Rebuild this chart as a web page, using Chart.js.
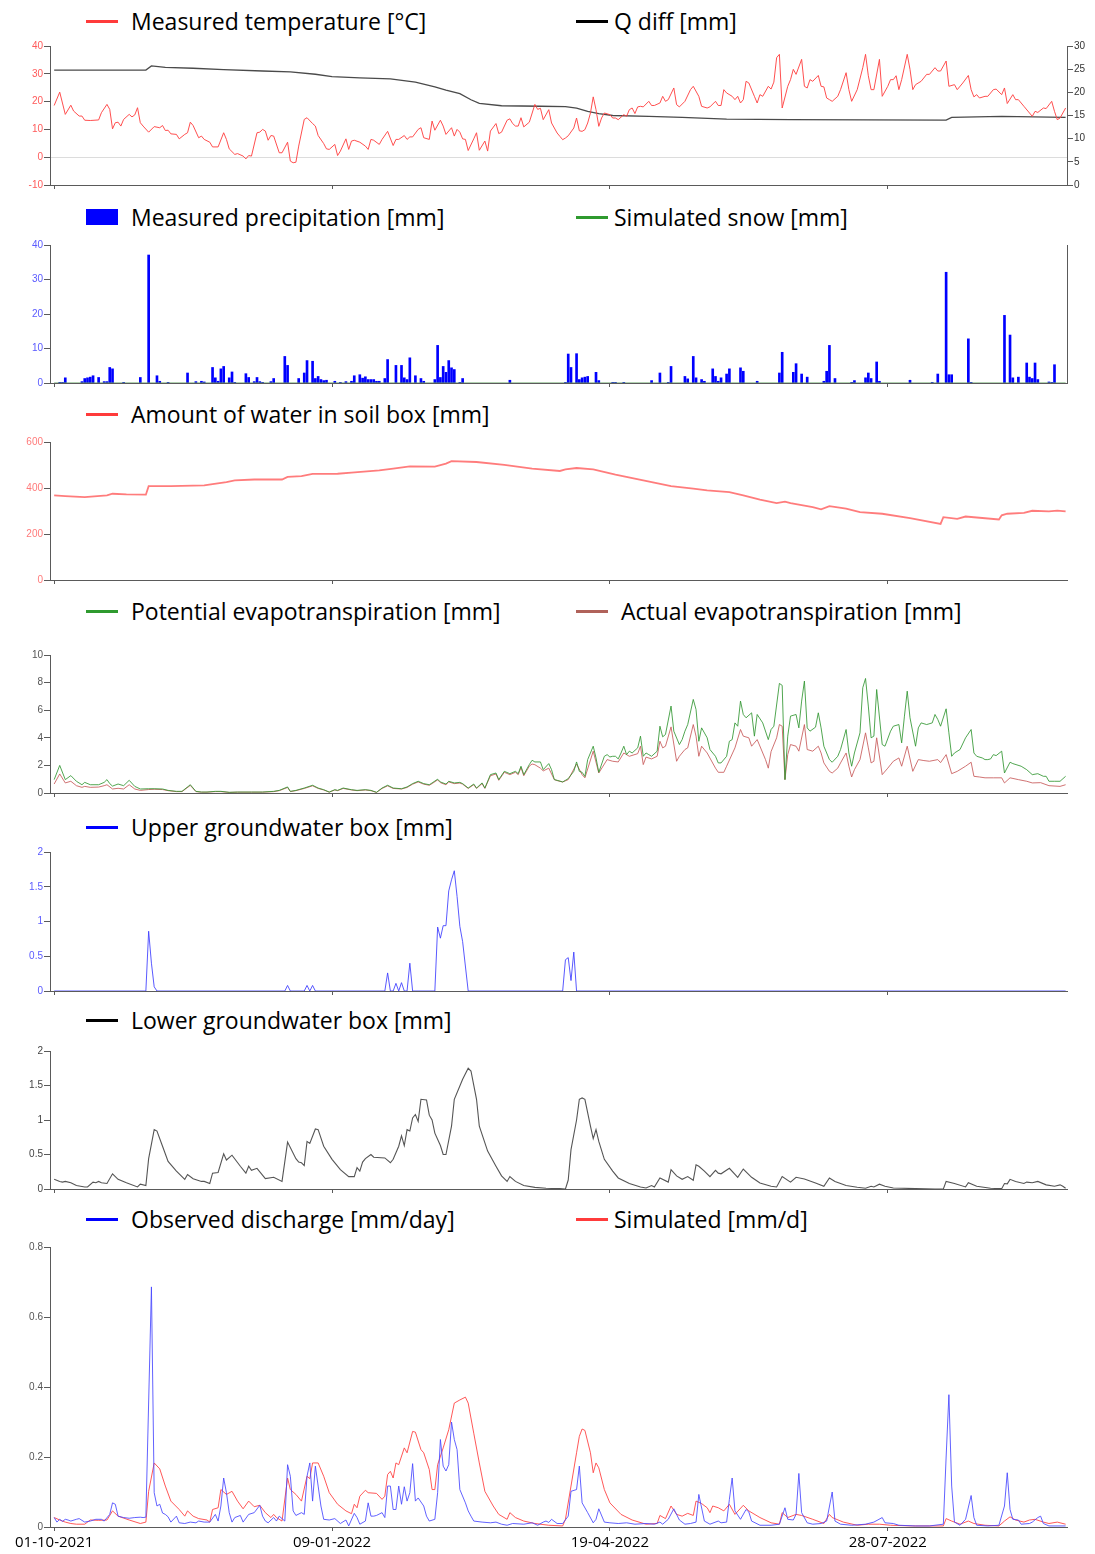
<!DOCTYPE html>
<html>
<head>
<meta charset="utf-8">
<title>HBV water balance 2021-2022</title>
<script src="https://cdn.jsdelivr.net/npm/chart.js@4.4.0/dist/chart.umd.min.js"></script>
<style>
  body { margin: 0; background: #fff; }
  #page { position: relative; width: 1095px; height: 1554px; overflow: hidden; }
  .panel { position: absolute; left: 0; }
  .key-line { position: absolute; height: 3px; }
  .key-box { position: absolute; }
  .key-text { position: absolute; font-family: 'Open Sans', sans-serif; font-size: 23px; line-height: 30px; color: #000; white-space: nowrap; }
</style>
</head>
<body>
<div id="page"></div>
<script>
'use strict';

// x axis: day number counted from 01-10-2021
const tickDays = [0, 100, 200, 300];
const tickLabels = ['01-10-2021', '09-01-2022', '19-04-2022', '28-07-2022'];

// [day, value] pairs
const temperature = [
  [0, 18.6], [2, 23.4], [4, 15.4], [6, 18.7], [7, 16.6], [9, 14.8], [10, 14.8], [11, 13.3], [13, 13.2], [16, 13.4],
  [17, 16.0], [19, 19.0], [20, 17.2], [21, 10.2], [22, 12.4], [23, 12.6], [24, 11.2], [25, 13.6], [27, 15.4], [28, 14.5],
  [29, 15.2], [30, 17.8], [31, 12.4], [32, 11.2], [34, 9.0], [36, 11.0], [38, 10.6], [39, 11.4], [40, 9.6], [41, 9.7],
  [42, 8.4], [44, 8.2], [45, 6.6], [47, 8.2], [48, 8.8], [49, 12.6], [50, 11.4], [52, 7.0], [53, 7.6], [54, 6.4],
  [56, 5.4], [57, 3.7], [59, 3.7], [61, 8.8], [62, 6.4], [63, 3.0], [65, 1.0], [66, 1.3], [68, 0.4], [69, -0.6],
  [70, 0.6], [71, 0.4], [73, 8.8], [74, 9.0], [75, 10.0], [76, 9.4], [77, 6.1], [78, 7.8], [79, 7.6], [81, 1.6],
  [82, 1.6], [84, 5.4], [85, -1.4], [86, -2.0], [87, -1.8], [88, 4.0], [90, 13.6], [91, 14.2], [93, 12.1], [94, 11.2],
  [95, 7.8], [97, 4.9], [98, 3.0], [99, 2.8], [101, 4.6], [102, 0.6], [103, 2.2], [105, 6.6], [106, 2.8], [107, 5.8],
  [108, 6.1], [110, 5.4], [112, 4.0], [113, 2.8], [114, 6.4], [115, 6.1], [117, 4.6], [118, 6.4], [120, 9.3], [122, 4.2],
  [123, 6.4], [124, 6.4], [126, 7.8], [127, 6.4], [128, 7.3], [129, 7.3], [131, 10.0], [132, 10.6], [133, 7.0], [135, 6.4],
  [136, 13.0], [137, 9.7], [139, 13.3], [140, 11.2], [141, 8.2], [143, 10.6], [144, 7.6], [145, 10.0], [146, 9.0], [147, 6.6],
  [148, 6.4], [149, 2.4], [151, 6.6], [152, 8.8], [153, 2.5], [155, 5.8], [156, 2.2], [157, 9.4], [159, 12.1], [160, 8.5],
  [161, 9.0], [163, 13.3], [164, 13.8], [165, 12.1], [166, 11.2], [167, 11.2], [168, 14.2], [169, 10.9], [171, 12.6], [173, 19.0],
  [174, 17.2], [175, 17.6], [176, 13.5], [178, 17.1], [179, 12.3], [181, 8.7], [182, 7.5], [183, 6.3], [184, 6.9], [185, 7.7],
  [187, 10.5], [188, 14.1], [189, 9.5], [190, 9.3], [191, 9.9], [192, 12.3], [193, 15.9], [194, 21.7], [195, 17.1], [196, 11.1],
  [197, 14.1], [198, 15.9], [200, 15.3], [201, 14.1], [202, 14.1], [203, 13.5], [205, 15.3], [206, 14.7], [207, 17.1], [208, 17.7],
  [209, 15.7], [210, 18.1], [211, 18.3], [212, 18.1], [214, 20.1], [215, 18.6], [216, 18.6], [218, 19.5], [219, 21.9], [220, 20.1],
  [221, 20.7], [223, 24.9], [224, 18.9], [225, 18.1], [227, 20.1], [229, 24.3], [230, 25.5], [232, 21.9], [233, 18.3], [235, 17.7],
  [236, 18.1], [238, 20.1], [239, 18.6], [240, 18.6], [241, 24.3], [242, 23.1], [244, 21.9], [245, 20.7], [246, 21.9], [247, 19.5],
  [248, 20.7], [249, 27.3], [250, 26.7], [252, 21.9], [253, 19.5], [254, 22.5], [255, 21.9], [257, 25.5], [258, 24.5], [259, 27.0],
  [260, 35.8], [261, 37.0], [262, 17.7], [264, 25.5], [265, 27.9], [266, 31.6], [267, 29.8], [269, 35.2], [270, 25.5], [271, 24.9],
  [272, 27.9], [273, 27.3], [275, 29.4], [276, 25.5], [277, 25.3], [278, 21.3], [279, 20.7], [280, 20.1], [282, 21.9], [283, 24.3],
  [285, 30.4], [286, 24.3], [287, 20.1], [289, 24.3], [291, 32.2], [292, 37.0], [293, 29.3], [294, 24.3], [295, 24.3], [297, 35.2],
  [298, 21.9], [300, 25.5], [301, 27.9], [302, 27.9], [303, 29.3], [304, 24.3], [305, 27.9], [307, 37.0], [308, 31.6], [309, 24.3],
  [310, 26.1], [312, 27.3], [314, 29.8], [315, 29.8], [317, 32.2], [318, 31.0], [319, 31.0], [321, 34.6], [322, 25.5], [324, 26.1],
  [325, 24.3], [327, 26.7], [329, 29.4], [330, 24.3], [331, 21.7], [332, 22.5], [333, 21.3], [335, 21.9], [336, 21.9], [338, 24.3],
  [339, 24.5], [341, 22.5], [342, 24.9], [343, 19.3], [345, 22.5], [346, 20.7], [347, 20.7], [349, 18.3], [352, 14.7], [353, 16.5],
  [354, 16.1], [356, 17.7], [357, 17.5], [359, 20.1], [360, 16.5], [361, 13.5], [362, 14.1], [364, 17.7]
];

const qDiff = [
  [0, 24.8], [33, 24.8], [35, 25.7], [40, 25.4], [50, 25.2], [61, 24.9], [75, 24.6], [85, 24.4], [94, 23.9], [100, 23.4],
  [110, 23.1], [121, 22.9], [130, 22.2], [137, 21.2], [141, 20.5], [146, 19.7], [150, 18.4], [153, 17.6], [161, 17.1], [175, 17.0],
  [184, 16.9], [188, 16.6], [192, 15.9], [196, 15.4], [201, 15.0], [214, 14.8], [226, 14.6], [242, 14.2], [265, 14.1], [321, 14.0],
  [323, 14.6], [341, 14.8], [364, 14.6]
];

const precipitation = [
  [2, 0.2], [3, 0.2], [4, 1.5], [10, 0.4], [11, 1.3], [12, 1.5], [13, 1.7], [14, 2.1], [16, 1.6], [18, 0.4],
  [19, 0.4], [20, 4.5], [21, 4.1], [25, 0.2], [31, 1.6], [34, 37.1], [37, 2.1], [38, 0.5], [41, 0.2], [48, 2.9],
  [51, 0.4], [53, 0.5], [54, 0.3], [57, 4.5], [58, 1.5], [59, 0.5], [60, 4.1], [61, 4.8], [63, 1.5], [64, 3.2],
  [65, 0.2], [69, 2.7], [70, 1.6], [72, 0.4], [73, 1.6], [74, 0.4], [75, 0.2], [78, 0.4], [79, 1.3], [83, 7.7],
  [84, 5.1], [88, 1.3], [90, 2.9], [91, 6.5], [93, 6.3], [94, 1.3], [95, 1.9], [96, 1.0], [97, 0.7], [98, 0.8],
  [101, 0.5], [103, 0.2], [105, 0.4], [107, 0.5], [108, 2.1], [110, 2.4], [111, 1.4], [112, 1.8], [113, 1.0], [114, 1.0],
  [115, 1.0], [116, 0.5], [117, 0.5], [119, 1.3], [120, 6.8], [123, 5.1], [125, 5.1], [126, 1.5], [127, 1.0], [128, 7.3],
  [130, 2.1], [132, 1.3], [133, 0.5], [137, 1.0], [138, 10.9], [139, 1.6], [140, 4.8], [141, 3.1], [142, 6.5], [143, 4.4],
  [144, 3.9], [146, 0.2], [147, 1.3], [164, 0.8], [184, 0.2], [185, 8.4], [186, 4.5], [188, 8.5], [189, 1.0], [190, 1.5],
  [191, 1.7], [192, 1.9], [195, 3.1], [196, 0.7], [201, 0.2], [202, 0.2], [205, 0.2], [215, 0.7], [218, 2.9], [221, 0.2],
  [222, 4.8], [227, 1.9], [228, 1.2], [230, 7.7], [231, 1.5], [233, 1.0], [234, 0.5], [237, 4.1], [238, 1.9], [239, 0.5],
  [240, 1.5], [242, 2.6], [243, 4.1], [247, 4.4], [248, 3.4], [253, 0.5], [261, 2.9], [262, 8.9], [266, 3.1], [267, 5.6],
  [269, 2.6], [271, 1.7], [277, 0.5], [278, 3.4], [279, 10.9], [281, 1.3], [287, 0.2], [288, 0.7], [292, 1.5], [293, 2.9],
  [294, 1.3], [296, 6.1], [297, 0.5], [308, 0.8], [316, 0.2], [318, 2.6], [321, 32.1], [322, 2.4], [323, 2.4], [329, 12.8],
  [330, 0.2], [342, 19.6], [344, 13.9], [345, 1.5], [347, 1.7], [350, 5.8], [351, 1.7], [352, 1.3], [353, 5.8], [354, 1.0],
  [358, 0.3], [359, 0.2], [360, 5.3]
];

const snow = [[0, 0], [364, 0]];

const soilWater = [
  [0, 368], [4, 365], [11, 360], [19, 368], [21, 375], [26, 372], [33, 371], [34, 408], [42, 408], [54, 411],
  [57, 417], [62, 426], [65, 433], [72, 437], [82, 437], [84, 448], [89, 452], [93, 461], [102, 462], [107, 467],
  [117, 477], [122, 484], [128, 494], [137, 493], [141, 506], [143, 517], [152, 513], [162, 501], [172, 484], [182, 474],
  [184, 481], [188, 487], [194, 481], [202, 458], [212, 433], [222, 408], [230, 397], [235, 390], [243, 382], [248, 368],
  [254, 349], [260, 334], [263, 341], [265, 334], [273, 317], [276, 307], [279, 321], [285, 310], [290, 295], [298, 288],
  [308, 269], [319, 244], [320, 273], [325, 266], [328, 276], [340, 263], [341, 281], [343, 288], [349, 292], [352, 301],
  [358, 298], [361, 302], [364, 298]
];

const potentialEt = [
  [0, 0.97], [2, 2.0], [4, 0.97], [6, 1.26], [8, 0.85], [10, 0.6], [11, 0.77], [13, 0.6], [16, 0.6], [18, 0.77],
  [19, 0.97], [20, 0.68], [21, 0.5], [23, 0.65], [25, 0.53], [27, 0.92], [29, 0.48], [31, 0.29], [34, 0.31], [36, 0.31],
  [39, 0.29], [41, 0.19], [44, 0.12], [46, 0.12], [49, 0.6], [51, 0.12], [53, 0.07], [55, 0.07], [58, 0.12], [60, 0.12],
  [63, 0.05], [66, 0.07], [71, 0.07], [75, 0.07], [79, 0.12], [81, 0.19], [84, 0.44], [85, 0.12], [87, 0.19], [90, 0.36],
  [93, 0.56], [95, 0.36], [97, 0.24], [99, 0.07], [101, 0.24], [102, 0.19], [104, 0.36], [107, 0.24], [109, 0.19], [112, 0.24],
  [114, 0.19], [116, 0.05], [118, 0.36], [120, 0.56], [122, 0.36], [125, 0.31], [127, 0.44], [129, 0.68], [131, 0.85], [133, 0.68],
  [135, 0.6], [136, 0.73], [138, 1.0], [139, 0.8], [141, 0.65], [142, 0.85], [144, 0.73], [146, 0.77], [147, 0.68], [149, 0.36],
  [151, 0.65], [152, 0.36], [154, 0.73], [155, 0.36], [157, 1.33], [159, 1.45], [160, 0.97], [162, 1.57], [164, 1.4], [166, 1.57],
  [167, 1.4], [168, 1.94], [169, 1.33], [171, 2.06], [172, 2.37], [173, 2.25], [175, 2.25], [176, 1.69], [178, 2.13], [179, 1.69],
  [180, 0.97], [181, 0.92], [183, 0.8], [184, 0.92], [185, 1.04], [187, 1.57], [188, 2.25], [189, 1.57], [190, 1.5], [191, 1.2],
  [192, 2.42], [194, 3.39], [195, 2.54], [196, 1.5], [198, 2.66], [199, 2.78], [200, 2.61], [201, 2.66], [202, 2.66], [203, 2.47],
  [204, 2.9], [205, 3.39], [206, 2.78], [207, 3.03], [208, 2.9], [210, 3.27], [211, 4.12], [212, 2.66], [213, 2.9], [214, 2.78],
  [215, 2.66], [217, 3.03], [218, 4.84], [219, 4.07], [220, 4.24], [222, 6.3], [223, 4.48], [225, 3.51], [226, 3.87], [227, 4.48],
  [228, 4.96], [230, 6.78], [231, 6.05], [232, 3.75], [233, 4.72], [235, 4.0], [236, 3.15], [238, 2.66], [239, 2.18], [240, 2.18],
  [242, 2.66], [243, 3.75], [244, 3.87], [245, 5.08], [246, 4.84], [247, 6.66], [248, 5.69], [249, 5.45], [251, 5.81], [252, 4.12],
  [253, 5.69], [255, 5.08], [257, 3.87], [258, 4.6], [259, 4.84], [261, 7.94], [262, 7.8], [263, 0.97], [264, 4.12], [265, 5.57],
  [267, 5.69], [268, 4.72], [269, 6.66], [270, 8.11], [271, 4.72], [272, 4.48], [274, 4.77], [275, 5.81], [276, 4.72], [277, 3.39],
  [279, 2.42], [280, 2.23], [282, 2.66], [283, 3.15], [285, 4.6], [286, 2.9], [287, 1.94], [288, 2.9], [290, 4.36], [291, 7.63],
  [292, 8.3], [293, 6.3], [294, 4.0], [295, 4.12], [296, 7.5], [298, 3.51], [299, 3.39], [301, 4.48], [302, 4.84], [304, 4.96],
  [305, 3.63], [306, 5.57], [307, 7.38], [308, 5.45], [310, 3.39], [311, 4.72], [312, 5.08], [314, 4.96], [316, 5.08], [317, 5.69],
  [318, 5.33], [319, 4.84], [321, 6.1], [322, 4.36], [323, 2.66], [324, 2.9], [326, 3.15], [328, 4.0], [330, 4.6], [331, 2.9],
  [332, 2.66], [334, 2.54], [335, 2.42], [336, 2.42], [337, 2.47], [338, 2.78], [339, 2.71], [341, 3.03], [342, 1.45], [344, 2.23],
  [345, 2.13], [348, 1.94], [350, 1.69], [352, 1.33], [354, 1.4], [356, 1.21], [357, 1.21], [358, 0.85], [360, 0.85], [362, 0.85],
  [364, 1.21]
];

const actualEt = [
  [0, 0.65], [2, 1.38], [4, 0.73], [6, 0.85], [8, 0.53], [10, 0.41], [11, 0.48], [13, 0.41], [16, 0.43], [18, 0.53],
  [19, 0.6], [21, 0.29], [23, 0.34], [25, 0.29], [27, 0.6], [29, 0.29], [31, 0.19], [34, 0.25], [36, 0.27], [39, 0.25],
  [41, 0.17], [44, 0.1], [46, 0.1], [49, 0.55], [51, 0.1], [53, 0.06], [55, 0.06], [58, 0.1], [60, 0.1], [63, 0.04],
  [66, 0.06], [71, 0.06], [75, 0.06], [79, 0.1], [81, 0.17], [84, 0.4], [85, 0.1], [87, 0.17], [90, 0.33], [93, 0.52],
  [95, 0.33], [97, 0.22], [99, 0.06], [101, 0.22], [102, 0.17], [104, 0.33], [107, 0.22], [109, 0.17], [112, 0.22], [114, 0.17],
  [116, 0.04], [118, 0.33], [120, 0.52], [122, 0.33], [125, 0.29], [127, 0.4], [129, 0.64], [131, 0.8], [133, 0.64], [135, 0.56],
  [136, 0.68], [138, 0.95], [139, 0.75], [141, 0.6], [142, 0.8], [144, 0.68], [146, 0.72], [147, 0.64], [149, 0.33], [151, 0.6],
  [152, 0.33], [154, 0.68], [155, 0.33], [157, 1.25], [159, 1.38], [160, 0.92], [162, 1.5], [164, 1.33], [166, 1.5], [167, 1.33],
  [168, 1.85], [169, 1.25], [171, 1.95], [172, 2.1], [173, 2.05], [175, 1.8], [176, 1.6], [178, 1.8], [180, 0.97], [181, 0.9],
  [183, 0.8], [185, 0.97], [188, 2.1], [190, 1.33], [191, 1.1], [194, 3.03], [196, 1.45], [199, 2.42], [201, 2.3], [203, 2.25],
  [205, 2.9], [207, 2.66], [210, 2.85], [211, 3.39], [212, 2.06], [213, 2.6], [215, 2.47], [217, 2.66], [218, 3.75], [219, 3.27],
  [220, 3.39], [222, 4.79], [224, 2.3], [225, 2.66], [227, 3.15], [228, 3.27], [230, 4.96], [231, 4.12], [232, 2.66], [233, 3.39],
  [235, 2.9], [238, 1.8], [239, 1.5], [241, 1.5], [242, 1.94], [245, 3.27], [247, 4.6], [248, 4.12], [250, 4.0], [251, 3.39],
  [253, 3.87], [256, 2.42], [257, 1.8], [258, 3.0], [260, 4.0], [261, 4.96], [262, 4.84], [263, 0.97], [264, 2.78], [265, 3.51],
  [267, 3.39], [268, 3.03], [270, 4.96], [271, 3.15], [273, 3.03], [275, 3.39], [276, 2.9], [277, 2.18], [279, 1.57], [280, 1.45],
  [282, 1.8], [283, 2.18], [285, 2.9], [286, 1.94], [287, 1.16], [288, 1.69], [290, 2.42], [292, 4.36], [293, 3.27], [294, 2.18],
  [295, 2.3], [296, 4.0], [298, 1.33], [300, 1.8], [302, 2.3], [304, 2.54], [305, 1.94], [307, 3.39], [309, 1.57], [311, 2.42],
  [313, 2.35], [315, 2.3], [318, 2.42], [319, 2.2], [321, 2.78], [323, 1.4], [325, 1.57], [328, 1.94], [330, 2.23], [331, 1.21],
  [333, 1.16], [335, 1.1], [338, 1.1], [341, 1.1], [342, 0.73], [344, 1.1], [347, 0.97], [350, 0.85], [352, 0.73], [355, 0.75],
  [358, 0.53], [362, 0.48], [364, 0.6]
];

const upperBox = [
  [0, 0], [33, 0], [34, 0.86], [35, 0.4], [36, 0.06], [37, 0], [83, 0], [84, 0.08], [85, 0], [90, 0],
  [91, 0.08], [92, 0], [93, 0.08], [94, 0], [119, 0], [120, 0.26], [121, 0], [122, 0], [123, 0.11], [124, 0],
  [125, 0.12], [126, 0], [127, 0], [128, 0.4], [129, 0], [137, 0], [138, 0.92], [139, 0.76], [140, 0.94], [141, 0.94],
  [142, 1.44], [143, 1.6], [144, 1.73], [145, 1.36], [146, 0.93], [147, 0.71], [149, 0], [183, 0], [184, 0.45], [185, 0.48],
  [186, 0.15], [187, 0.56], [188, 0], [364, 0]
];

const lowerBox = [
  [0, 0.14], [2, 0.11], [3, 0.1], [4, 0.11], [6, 0.09], [8, 0.05], [11, 0.03], [12, 0.03], [14, 0.1], [15, 0.09],
  [16, 0.11], [17, 0.09], [19, 0.08], [21, 0.22], [23, 0.14], [26, 0.09], [30, 0.03], [31, 0.07], [33, 0.05], [34, 0.44],
  [36, 0.86], [37, 0.84], [39, 0.62], [41, 0.4], [44, 0.26], [47, 0.14], [48, 0.21], [50, 0.15], [53, 0.11], [54, 0.11],
  [56, 0.08], [57, 0.23], [59, 0.24], [61, 0.51], [62, 0.42], [64, 0.49], [67, 0.33], [69, 0.23], [70, 0.33], [71, 0.27],
  [73, 0.3], [76, 0.15], [79, 0.17], [82, 0.11], [84, 0.68], [87, 0.44], [88, 0.39], [89, 0.38], [90, 0.34], [91, 0.69],
  [92, 0.66], [94, 0.87], [95, 0.86], [97, 0.62], [100, 0.43], [103, 0.28], [106, 0.18], [108, 0.18], [109, 0.31], [110, 0.26],
  [111, 0.39], [112, 0.44], [114, 0.5], [115, 0.46], [119, 0.45], [121, 0.38], [122, 0.43], [124, 0.62], [125, 0.77], [126, 0.63],
  [127, 0.86], [128, 0.84], [129, 1.03], [130, 1.08], [131, 0.98], [132, 1.3], [134, 1.29], [135, 1.07], [136, 1.0], [137, 0.81],
  [139, 0.63], [140, 0.5], [141, 0.5], [143, 0.91], [144, 1.3], [147, 1.59], [149, 1.75], [150, 1.71], [152, 1.3], [153, 0.91],
  [156, 0.55], [159, 0.33], [161, 0.19], [163, 0.11], [164, 0.18], [166, 0.11], [169, 0.05], [173, 0.024], [177, 0.01], [182, 0.005],
  [184, 0], [185, 0.13], [186, 0.57], [188, 1.0], [189, 1.3], [190, 1.32], [191, 1.3], [193, 0.91], [194, 0.73], [195, 0.86],
  [196, 0.69], [198, 0.43], [201, 0.26], [203, 0.16], [207, 0.08], [211, 0.03], [213, 0.015], [215, 0.05], [216, 0.03], [218, 0.16],
  [221, 0.1], [222, 0.28], [224, 0.19], [226, 0.14], [228, 0.18], [230, 0.126], [231, 0.35], [232, 0.33], [234, 0.26], [236, 0.18],
  [238, 0.27], [239, 0.23], [240, 0.22], [243, 0.3], [246, 0.17], [248, 0.29], [251, 0.17], [254, 0.087], [258, 0.04], [260, 0.03],
  [262, 0.18], [265, 0.1], [267, 0.17], [270, 0.145], [274, 0.087], [277, 0.04], [279, 0.16], [281, 0.11], [285, 0.05], [289, 0.025],
  [292, 0.01], [294, 0.04], [295, 0.03], [297, 0.07], [299, 0.04], [302, 0.015], [310, 0.005], [317, 0], [320, 0], [321, 0.11],
  [324, 0.08], [328, 0.03], [329, 0.09], [332, 0.04], [337, 0.01], [341, 0.005], [342, 0.08], [343, 0.075], [344, 0.14], [346, 0.11],
  [349, 0.08], [350, 0.1], [352, 0.09], [354, 0.11], [357, 0.06], [360, 0.04], [362, 0.06], [363, 0.04], [364, 0.01]
];

const observedQ = [
  [0, 0.027], [1, 0.014], [2, 0.022], [3, 0.016], [4, 0.022], [5, 0.02], [6, 0.017], [8, 0.022], [9, 0.024], [11, 0.014],
  [13, 0.017], [15, 0.022], [17, 0.022], [18, 0.017], [20, 0.036], [21, 0.069], [22, 0.065], [23, 0.031], [25, 0.027], [27, 0.025],
  [29, 0.027], [31, 0.028], [32, 0.027], [33, 0.028], [35, 0.686], [36, 0.098], [37, 0.06], [38, 0.065], [39, 0.04], [40, 0.036],
  [41, 0.029], [42, 0.014], [44, 0.031], [45, 0.012], [47, 0.01], [49, 0.014], [51, 0.012], [52, 0.017], [54, 0.014], [56, 0.014],
  [58, 0.036], [59, 0.017], [60, 0.06], [61, 0.14], [62, 0.098], [63, 0.041], [64, 0.014], [65, 0.027], [67, 0.033], [68, 0.014],
  [70, 0.036], [72, 0.041], [74, 0.062], [75, 0.031], [76, 0.017], [77, 0.012], [79, 0.027], [80, 0.017], [81, 0.031], [83, 0.017],
  [84, 0.178], [85, 0.145], [86, 0.046], [87, 0.033], [89, 0.041], [90, 0.036], [91, 0.145], [92, 0.183], [93, 0.074], [94, 0.174],
  [95, 0.117], [96, 0.06], [97, 0.022], [99, 0.02], [101, 0.024], [103, 0.01], [105, 0.02], [106, 0.003], [108, 0.039], [109, 0.027],
  [110, 0.008], [112, 0.017], [113, 0.069], [114, 0.031], [115, 0.031], [116, 0.033], [118, 0.041], [119, 0.027], [120, 0.117], [121, 0.117],
  [122, 0.05], [123, 0.05], [124, 0.117], [125, 0.065], [126, 0.115], [127, 0.074], [128, 0.098], [129, 0.181], [130, 0.074], [131, 0.083],
  [133, 0.06], [134, 0.031], [135, 0.017], [137, 0.022], [138, 0.098], [139, 0.25], [140, 0.174], [141, 0.16], [142, 0.178], [143, 0.3],
  [144, 0.25], [145, 0.221], [146, 0.107], [148, 0.069], [149, 0.046], [150, 0.031], [151, 0.017], [154, 0.014], [157, 0.012], [159, 0.014],
  [161, 0.008], [163, 0.005], [165, 0.01], [169, 0.008], [172, 0.012], [174, 0.005], [176, 0.014], [177, 0.017], [178, 0.013], [179, 0.022],
  [181, 0.01], [183, 0.01], [185, 0.031], [186, 0.102], [188, 0.107], [189, 0.174], [190, 0.069], [192, 0.041], [194, 0.012], [195, 0.022],
  [196, 0.052], [198, 0.014], [200, 0.012], [203, 0.01], [206, 0.012], [209, 0.008], [213, 0.01], [216, 0.008], [218, 0.014], [219, 0.008],
  [221, 0.022], [223, 0.052], [225, 0.02], [227, 0.008], [229, 0.01], [231, 0.014], [232, 0.093], [234, 0.017], [236, 0.008], [239, 0.017],
  [240, 0.012], [242, 0.014], [243, 0.079], [244, 0.14], [245, 0.046], [247, 0.022], [249, 0.05], [250, 0.043], [251, 0.017], [254, 0.005],
  [258, 0.005], [261, 0.008], [263, 0.055], [264, 0.022], [266, 0.02], [267, 0.036], [268, 0.153], [269, 0.041], [271, 0.012], [273, 0.008],
  [276, 0.01], [278, 0.017], [280, 0.1], [281, 0.017], [283, 0.008], [287, 0.005], [292, 0.008], [295, 0.014], [298, 0.027], [299, 0.012],
  [302, 0.01], [304, 0.005], [310, 0.003], [315, 0.003], [320, 0.008], [321, 0.2], [322, 0.378], [323, 0.117], [324, 0.014], [326, 0.005],
  [328, 0.022], [330, 0.09], [331, 0.027], [332, 0.005], [336, 0.003], [340, 0.005], [342, 0.06], [343, 0.155], [344, 0.05], [345, 0.022],
  [347, 0.02], [348, 0.008], [351, 0.01], [352, 0.014], [354, 0.027], [355, 0.031], [356, 0.01], [358, 0.003], [364, 0.003]
];

const simulatedQ = [
  [0, 0.027], [2, 0.02], [4, 0.014], [6, 0.01], [8, 0.008], [11, 0.008], [13, 0.02], [16, 0.019], [19, 0.02], [21, 0.046],
  [23, 0.031], [27, 0.02], [31, 0.01], [33, 0.014], [34, 0.102], [36, 0.183], [38, 0.166], [40, 0.117], [42, 0.074], [45, 0.05],
  [47, 0.031], [48, 0.046], [50, 0.031], [52, 0.024], [55, 0.02], [56, 0.014], [57, 0.05], [59, 0.055], [60, 0.107], [62, 0.093],
  [64, 0.102], [66, 0.074], [68, 0.052], [70, 0.074], [72, 0.058], [74, 0.062], [76, 0.041], [78, 0.027], [79, 0.036], [80, 0.027],
  [82, 0.017], [84, 0.14], [85, 0.107], [87, 0.093], [89, 0.074], [91, 0.145], [92, 0.138], [93, 0.183], [95, 0.183], [97, 0.145],
  [99, 0.098], [102, 0.065], [105, 0.046], [107, 0.038], [108, 0.065], [109, 0.055], [110, 0.088], [112, 0.105], [113, 0.098], [116, 0.096],
  [118, 0.079], [119, 0.088], [120, 0.15], [121, 0.159], [122, 0.14], [123, 0.183], [124, 0.178], [126, 0.226], [127, 0.212], [129, 0.273],
  [130, 0.271], [132, 0.221], [133, 0.212], [135, 0.164], [136, 0.107], [137, 0.107], [138, 0.178], [140, 0.226], [142, 0.278], [144, 0.354],
  [146, 0.363], [148, 0.371], [149, 0.354], [151, 0.268], [153, 0.183], [155, 0.102], [158, 0.06], [160, 0.036], [163, 0.022], [164, 0.041],
  [166, 0.027], [169, 0.017], [173, 0.01], [178, 0.005], [183, 0.003], [184, 0.022], [186, 0.117], [188, 0.212], [189, 0.259], [190, 0.28],
  [191, 0.276], [193, 0.212], [194, 0.155], [195, 0.183], [196, 0.169], [198, 0.107], [200, 0.069], [204, 0.036], [208, 0.02], [213, 0.008],
  [217, 0.01], [218, 0.033], [220, 0.024], [222, 0.06], [224, 0.036], [226, 0.031], [228, 0.039], [230, 0.033], [231, 0.074], [233, 0.067],
  [235, 0.055], [236, 0.041], [237, 0.06], [239, 0.055], [241, 0.046], [243, 0.065], [245, 0.036], [248, 0.062], [250, 0.046], [254, 0.027],
  [258, 0.012], [261, 0.008], [262, 0.041], [264, 0.027], [267, 0.036], [269, 0.033], [273, 0.022], [277, 0.01], [279, 0.036], [280, 0.027],
  [284, 0.014], [289, 0.005], [293, 0.008], [297, 0.008], [301, 0.005], [309, 0.003], [320, 0.003], [321, 0.024], [323, 0.017], [326, 0.008],
  [329, 0.017], [331, 0.01], [335, 0.005], [340, 0.003], [342, 0.017], [344, 0.029], [346, 0.02], [349, 0.014], [351, 0.02], [353, 0.022],
  [356, 0.014], [358, 0.01], [361, 0.014], [362, 0.012], [364, 0.008]
];

// y tick values per panel
const tempTicks = [-10, 0, 10, 20, 30, 40];
const qDiffTicks = [0, 5, 10, 15, 20, 25, 30];
const precipTicks = [0, 10, 20, 30, 40];
const soilTicks = [0, 200, 400, 600];
const etTicks = [0, 2, 4, 6, 8, 10];
const boxTicks = [0, 0.5, 1, 1.5, 2];
const dischargeTicks = [0, 0.2, 0.4, 0.6, 0.8];

const PAGE_W = 1095;
const PLOT_LEFT = 50;
const PLOT_RIGHT = 1067;
const PAD_TOP = 8;
const axisGrey = '#5a5a5a';
const tickFont = { family: "'Liberation Sans Narrow', 'Liberation Sans', sans-serif", size: 10 };

const page = document.getElementById('page');

function pts(series) {
  return series.map(p => ({ x: p[0], y: p[1] }));
}

function xAxis(withLabels) {
  return {
    type: 'linear',
    min: -1.5,
    max: 364.5,
    offset: false,
    afterBuildTicks: s => { s.ticks = tickDays.map(v => ({ value: v })); },
    ticks: {
      display: withLabels,
      autoSkip: false,
      maxRotation: 0,
      padding: 3,
      color: '#000',
      font: { family: "'Open Sans', sans-serif", size: 15 },
      callback: v => tickLabels[tickDays.indexOf(v)]
    },
    grid: { drawOnChartArea: false, drawTicks: true, tickLength: 4, color: axisGrey, offset: false },
    border: { color: axisGrey },
    afterFit: s => { s.height = withLabels ? 28 : 10; }
  };
}

function yAxis(min, max, ticks, color, extra) {
  return Object.assign({
    type: 'linear',
    position: 'left',
    min: min,
    max: max,
    afterBuildTicks: s => { s.ticks = ticks.map(v => ({ value: v })); },
    ticks: { color: color, font: tickFont, padding: 1, callback: v => String(v) },
    grid: { drawOnChartArea: false, tickLength: 6, color: axisGrey },
    border: { color: axisGrey },
    afterFit: s => { s.width = PLOT_LEFT; }
  }, extra || {});
}

function lineSet(label, series, color, width, axisId) {
  return {
    type: 'line',
    label: label,
    data: pts(series),
    borderColor: color,
    backgroundColor: color,
    borderWidth: width,
    pointRadius: 0,
    tension: 0,
    yAxisID: axisId || 'y'
  };
}

function addPanel(plotTop, plotBottom, withLabels, datasets, scales, rightPad) {
  const xHeight = withLabels ? 28 : 10;
  const h = PAD_TOP + (plotBottom - plotTop) + xHeight;
  const canvas = document.createElement('canvas');
  canvas.className = 'panel';
  canvas.width = PAGE_W;
  canvas.height = h;
  canvas.style.top = (plotTop - PAD_TOP) + 'px';
  canvas.style.width = PAGE_W + 'px';
  canvas.style.height = h + 'px';
  page.appendChild(canvas);
  scales.x = xAxis(withLabels);
  return new Chart(canvas.getContext('2d'), {
    type: 'line',
    data: { datasets: datasets },
    options: {
      responsive: false,
      animation: false,
      events: [],
      layout: { padding: { top: PAD_TOP, right: rightPad, left: 0, bottom: 0 } },
      plugins: { legend: { display: false }, tooltip: { enabled: false } },
      scales: scales
    }
  });
}

// legend entries drawn as page text
function keyItem(x, cy, color, text, textX, box) {
  const mark = document.createElement('div');
  if (box) {
    mark.className = 'key-box';
    mark.style.left = x + 'px';
    mark.style.top = (cy - 8) + 'px';
    mark.style.width = '32px';
    mark.style.height = '16px';
  } else {
    mark.className = 'key-line';
    mark.style.left = x + 'px';
    mark.style.top = (cy - 1) + 'px';
    mark.style.width = '32px';
  }
  mark.style.background = color;
  page.appendChild(mark);
  const label = document.createElement('div');
  label.className = 'key-text';
  label.style.left = textX + 'px';
  label.style.top = (cy - 15) + 'px';
  label.textContent = text;
  page.appendChild(label);
}

const LEFT_KEY = 86, LEFT_TEXT = 131, RIGHT_KEY = 576, RIGHT_TEXT = 614;

// 1. temperature and Q diff
keyItem(LEFT_KEY, 21, '#ff3b3b', 'Measured temperature [°C]', LEFT_TEXT);
keyItem(RIGHT_KEY, 21, '#000', 'Q diff [mm]', RIGHT_TEXT);
addPanel(46, 185, false, [
  lineSet('Measured temperature [°C]', temperature, 'rgba(255,70,70,0.95)', 1),
  lineSet('Q diff [mm]', qDiff, '#4a4a4a', 1.3, 'y2')
], {
  y: yAxis(-10, 40, tempTicks, '#ff5a5a', {
    grid: {
      drawOnChartArea: true,
      tickLength: 6,
      tickColor: axisGrey,
      color: c => (c.tick && c.tick.value === 0 ? '#dcdcdc' : 'rgba(0,0,0,0)')
    }
  }),
  y2: yAxis(0, 30, qDiffTicks, '#333', {
    position: 'right',
    afterFit: s => { s.width = PAGE_W - PLOT_RIGHT; }
  })
}, 0);

// 2. precipitation and snow
keyItem(LEFT_KEY, 217, '#0000ff', 'Measured precipitation [mm]', LEFT_TEXT, true);
keyItem(RIGHT_KEY, 217, '#2f9a2f', 'Simulated snow [mm]', RIGHT_TEXT);
addPanel(245, 383, false, [
  lineSet('Simulated snow [mm]', snow, 'rgba(60,140,60,0.8)', 1.2),
  {
    type: 'bar',
    label: 'Measured precipitation [mm]',
    data: pts(precipitation),
    backgroundColor: '#0000ff',
    borderWidth: 0,
    barThickness: 2,
    yAxisID: 'y'
  }
], {
  y: yAxis(0, 40, precipTicks, '#5a5aff'),
  y2: {
    type: 'linear',
    display: true,
    position: 'right',
    min: 0,
    max: 40,
    ticks: { display: false },
    grid: { display: false },
    border: { color: axisGrey },
    afterFit: s => { s.width = PAGE_W - PLOT_RIGHT; }
  }
}, 0);

// 3. soil box
keyItem(LEFT_KEY, 414, '#ff3b3b', 'Amount of water in soil box [mm]', LEFT_TEXT);
addPanel(442, 580, false, [
  lineSet('Amount of water in soil box [mm]', soilWater, 'rgba(255,110,110,0.9)', 1.8)
], {
  y: yAxis(0, 600, soilTicks, '#ff7a7a')
}, PAGE_W - PLOT_RIGHT);

// 4. evapotranspiration
keyItem(LEFT_KEY, 611, '#2f9a2f', 'Potential evapotranspiration [mm]', LEFT_TEXT);
keyItem(RIGHT_KEY, 611, '#b0625a', 'Actual evapotranspiration [mm]', 621);
addPanel(655, 793, false, [
  lineSet('Potential evapotranspiration [mm]', potentialEt, 'rgba(50,150,50,0.85)', 1),
  lineSet('Actual evapotranspiration [mm]', actualEt, 'rgba(200,90,90,0.85)', 1)
], {
  y: yAxis(0, 10, etTicks, '#555')
}, PAGE_W - PLOT_RIGHT);

// 5. upper groundwater box
keyItem(LEFT_KEY, 827, '#0000ff', 'Upper groundwater box [mm]', LEFT_TEXT);
addPanel(852, 991, false, [
  lineSet('Upper groundwater box [mm]', upperBox, 'rgba(60,60,255,0.85)', 1)
], {
  y: yAxis(0, 2, boxTicks, '#5a5aff')
}, PAGE_W - PLOT_RIGHT);

// 6. lower groundwater box
keyItem(LEFT_KEY, 1020, '#000', 'Lower groundwater box [mm]', LEFT_TEXT);
addPanel(1051, 1189, false, [
  lineSet('Lower groundwater box [mm]', lowerBox, '#555', 1.1)
], {
  y: yAxis(0, 2, boxTicks, '#444')
}, PAGE_W - PLOT_RIGHT);

// 7. discharge
keyItem(LEFT_KEY, 1219, '#0000ff', 'Observed discharge [mm/day]', LEFT_TEXT);
keyItem(RIGHT_KEY, 1219, '#ff3b3b', 'Simulated [mm/d]', RIGHT_TEXT);
addPanel(1247, 1527, true, [
  lineSet('Observed discharge [mm/day]', observedQ, 'rgba(70,70,255,0.85)', 1),
  lineSet('Simulated [mm/d]', simulatedQ, 'rgba(255,70,70,0.9)', 1)
], {
  y: yAxis(0, 0.8, dischargeTicks, '#555')
}, PAGE_W - PLOT_RIGHT);
</script>
</body>
</html>
